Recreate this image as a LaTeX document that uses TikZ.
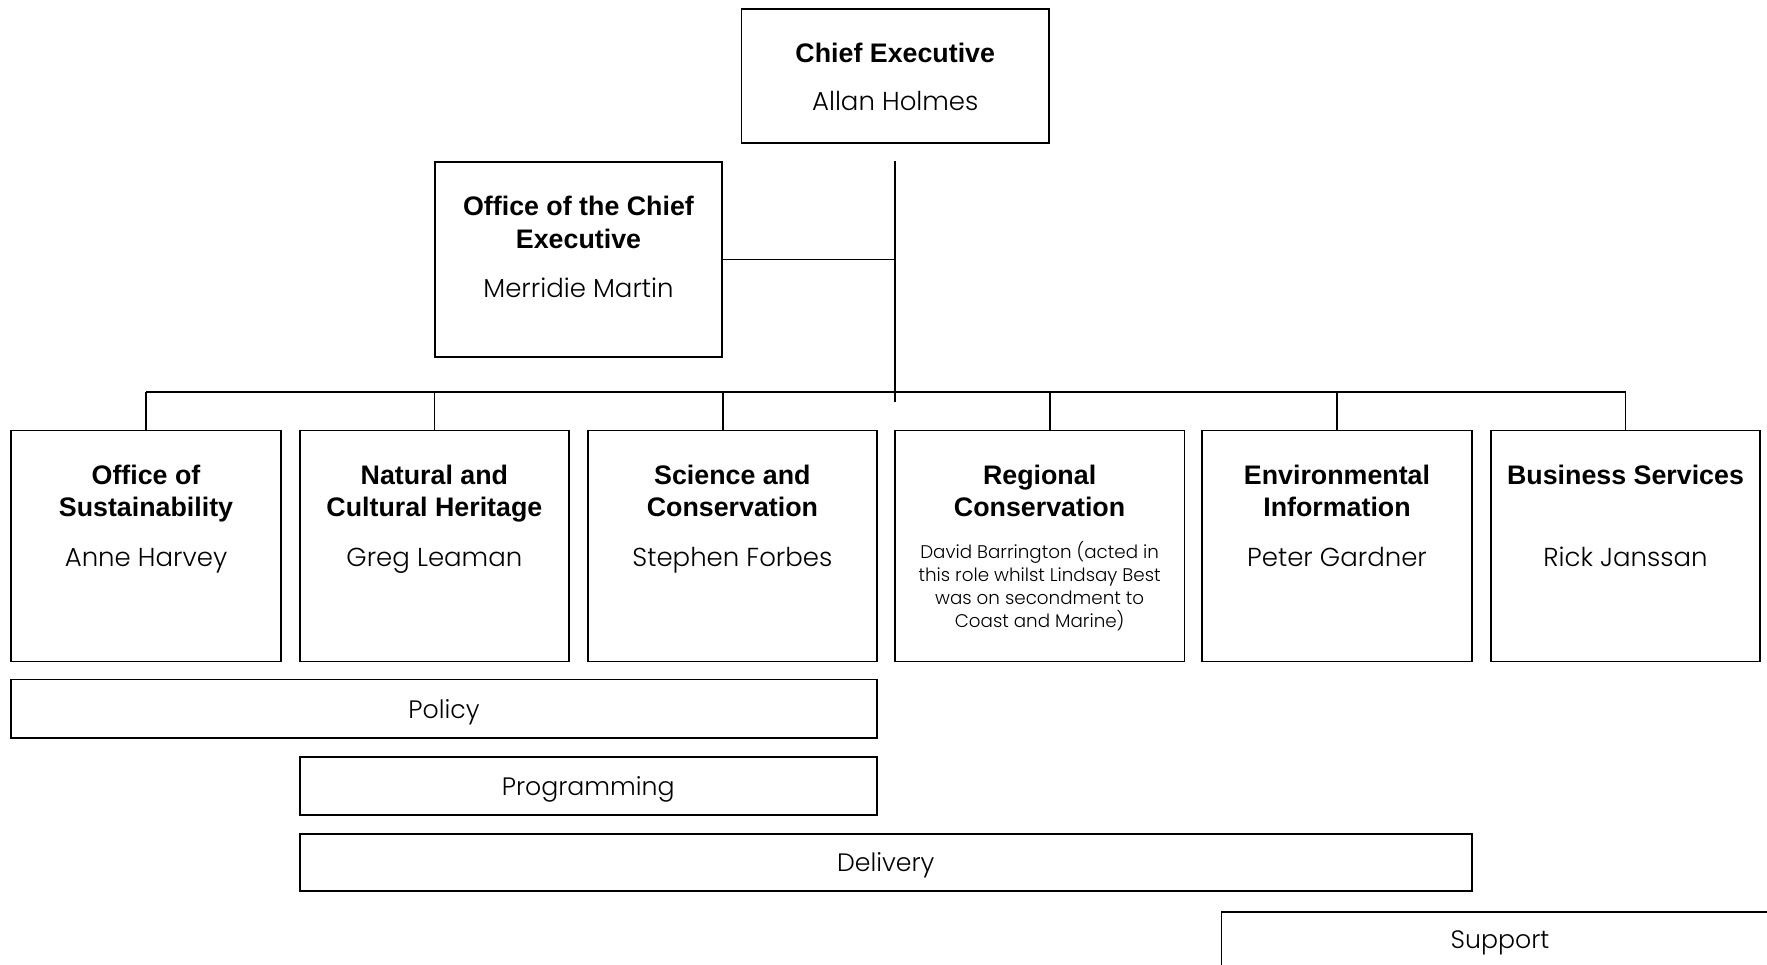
\documentclass[tikz,border=0pt]{standalone}
\usepackage{fontspec}
\setmainfont{Poppins}[UprightFont=* Light]
\newfontfamily\headfont{Liberation Sans}
\begin{document}
\begin{tikzpicture}[
  x=1pt, y=-1pt,
  frame/.style={draw, line width=1.8pt, inner sep=0pt},
  link/.style={line width=1.7pt},
  head/.style={anchor=base, inner sep=0pt, font=\headfont\bfseries\fontsize{26.8}{30}\selectfont},
  who/.style={anchor=base, inner sep=0pt, font=\fontsize{26}{30}\selectfont},
  note/.style={anchor=base, inner sep=0pt, font=\fontsize{18.3}{22}\selectfont},
  bar/.style={anchor=base, inner sep=0pt, font=\fontsize{25.2}{30}\selectfont},
]
\useasboundingbox (0,0) rectangle (1767,965);
\clip (0,0) rectangle (1767,965);

% Chief Executive and office
\node[frame, minimum width=307.5pt, minimum height=134pt] (ce) at (895.25,76) {};
\node[frame, minimum width=287pt, minimum height=195pt] (oce) at (578.5,259.5) {};

% divisions
\node[frame, minimum width=269.3pt, minimum height=231pt] (b1) at (146,546) {};
\node[frame, minimum width=269.2pt, minimum height=231pt] (b2) at (434.4,546) {};
\node[frame, minimum width=288.7pt, minimum height=231pt] (b3) at (732.4,546) {};
\node[frame, minimum width=289.6pt, minimum height=231pt] (b4) at (1039.6,546) {};
\node[frame, minimum width=269.3pt, minimum height=231pt] (b5) at (1337,546) {};
\node[frame, minimum width=269pt, minimum height=231pt] (b6) at (1625.5,546) {};

% functional bands
\node[frame, minimum width=865.4pt, minimum height=58.5pt] (policy) at (444,708.75) {};
\node[frame, minimum width=576.9pt, minimum height=58pt] (prog) at (588.25,786) {};
\node[frame, minimum width=1171.9pt, minimum height=57pt] (deliv) at (885.75,862.5) {};
\node[frame, minimum width=557.5pt, minimum height=58pt] (supp) at (1500.25,941) {};

% reporting lines
\coordinate (ttop) at (895,161);
\coordinate (tbot) at (895,402);
\coordinate (busL) at (146,392);
\coordinate (busR) at (1625.5,392);
\draw[link] (ttop) -- (tbot);
\draw[link] (oce.east) -- (oce.east -| ttop);
\draw[link] (busL) -- (busR);
\draw[link] (b1.north) -- (b1.north |- busL);
\draw[link] (b2.north) -- (b2.north |- busL);
\draw[link] (b3.north -| oce.east) -- (oce.east |- busL);
\draw[link] (b4.north -| ce.east) -- (ce.east |- busL);
\draw[link] (b5.north) -- (b5.north |- busL);
\draw[link] (b6.north) -- (b6.north |- busL);

% texts
\node[head] (ce1) at (895.25,63) {Chief Executive};
\node[who] (ce2) at (895.25,110.5) {Allan Holmes};

\node[head] (oce1) at (578.5,215.5) {Office of the Chief};
\node[head] (oce2) at (578.5,248.5) {Executive};
\node[who] (oce3) at (578.5,297.5) {Merridie Martin};

\node[head] (b1a) at (146,484) {Office of};
\node[head] (b1b) at (146,516.7) {Sustainability};
\node[who] (b1c) at (146,566) {Anne Harvey};

\node[head] (b2a) at (434.4,484) {Natural and};
\node[head] (b2b) at (434.4,516.7) {Cultural Heritage};
\node[who] (b2c) at (434.4,566) {Greg Leaman};

\node[head] (b3a) at (732.4,484) {Science and};
\node[head] (b3b) at (732.4,516.7) {Conservation};
\node[who] (b3c) at (732.4,566) {Stephen Forbes};

\node[head] (b4a) at (1039.6,484) {Regional};
\node[head] (b4b) at (1039.6,516.7) {Conservation};
\node[note] (b4c) at (1039.6,558.3) {David Barrington (acted in};
\node[note] (b4d) at (1039.6,581.5) {this role whilst Lindsay Best};
\node[note] (b4e) at (1039.6,604.5) {was on secondment to};
\node[note] (b4f) at (1039.6,627) {Coast and Marine)};

\node[head] (b5a) at (1337,484) {Environmental};
\node[head] (b5b) at (1337,516.7) {Information};
\node[who] (b5c) at (1337,566) {Peter Gardner};

\node[head] (b6a) at (1625.5,484) {Business Services};
\node[who] (b6c) at (1625.5,566) {Rick Janssan};

\node[bar] (t1) at (444,718) {Policy};
\node[bar] (t2) at (588.25,795) {Programming};
\node[bar] (t3) at (885.75,871.5) {Delivery};
\node[bar] (t4) at (1500,948) {Support};
\end{tikzpicture}
\end{document}
